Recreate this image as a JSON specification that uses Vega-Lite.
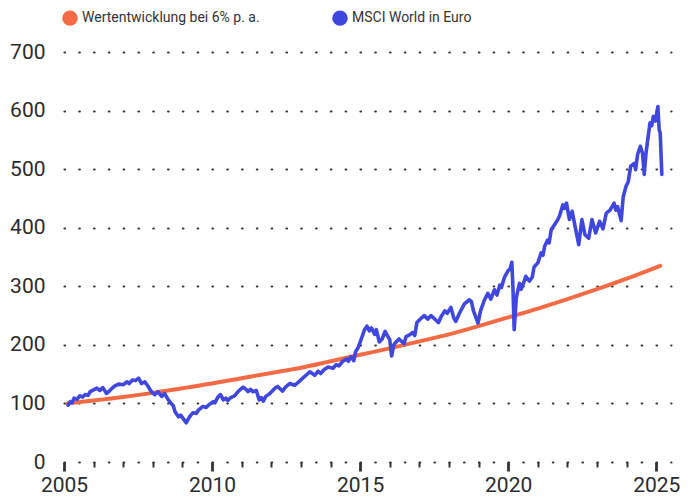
{
  "$schema": "https://vega.github.io/schema/vega-lite/v6.json",
  "width": 607,
  "height": 410,
  "autosize": {"type": "none"},
  "padding": {"left": 64, "top": 52, "right": 21, "bottom": 39},
  "background": "white",
  "config": {
    "view": {"stroke": null},
    "font": "Roboto"
  },
  "data": {
    "values": [
      {"date": "2005-02-15", "value": 100, "series": "Wertentwicklung bei 6% p. a."},
      {"date": "2006-01-01", "value": 105, "series": "Wertentwicklung bei 6% p. a."},
      {"date": "2007-01-01", "value": 111, "series": "Wertentwicklung bei 6% p. a."},
      {"date": "2008-01-01", "value": 118, "series": "Wertentwicklung bei 6% p. a."},
      {"date": "2009-01-01", "value": 126, "series": "Wertentwicklung bei 6% p. a."},
      {"date": "2010-01-01", "value": 134, "series": "Wertentwicklung bei 6% p. a."},
      {"date": "2011-01-01", "value": 143, "series": "Wertentwicklung bei 6% p. a."},
      {"date": "2012-01-01", "value": 152, "series": "Wertentwicklung bei 6% p. a."},
      {"date": "2013-01-01", "value": 161, "series": "Wertentwicklung bei 6% p. a."},
      {"date": "2014-01-01", "value": 172, "series": "Wertentwicklung bei 6% p. a."},
      {"date": "2015-01-01", "value": 183, "series": "Wertentwicklung bei 6% p. a."},
      {"date": "2016-01-01", "value": 194, "series": "Wertentwicklung bei 6% p. a."},
      {"date": "2017-01-01", "value": 206, "series": "Wertentwicklung bei 6% p. a."},
      {"date": "2018-01-01", "value": 218, "series": "Wertentwicklung bei 6% p. a."},
      {"date": "2019-01-01", "value": 232, "series": "Wertentwicklung bei 6% p. a."},
      {"date": "2020-01-01", "value": 247, "series": "Wertentwicklung bei 6% p. a."},
      {"date": "2021-01-01", "value": 262, "series": "Wertentwicklung bei 6% p. a."},
      {"date": "2022-01-01", "value": 278, "series": "Wertentwicklung bei 6% p. a."},
      {"date": "2023-01-01", "value": 295, "series": "Wertentwicklung bei 6% p. a."},
      {"date": "2024-01-01", "value": 313, "series": "Wertentwicklung bei 6% p. a."},
      {"date": "2025-02-18", "value": 335, "series": "Wertentwicklung bei 6% p. a."},

      {"date": "2005-02-20", "value": 97, "series": "MSCI World in Euro"},
      {"date": "2005-03-20", "value": 103, "series": "MSCI World in Euro"},
      {"date": "2005-04-10", "value": 101, "series": "MSCI World in Euro"},
      {"date": "2005-05-05", "value": 109, "series": "MSCI World in Euro"},
      {"date": "2005-06-10", "value": 107, "series": "MSCI World in Euro"},
      {"date": "2005-07-15", "value": 113, "series": "MSCI World in Euro"},
      {"date": "2005-08-20", "value": 111, "series": "MSCI World in Euro"},
      {"date": "2005-09-15", "value": 115, "series": "MSCI World in Euro"},
      {"date": "2005-10-25", "value": 114, "series": "MSCI World in Euro"},
      {"date": "2005-11-20", "value": 120, "series": "MSCI World in Euro"},
      {"date": "2006-01-01", "value": 123, "series": "MSCI World in Euro"},
      {"date": "2006-02-10", "value": 126, "series": "MSCI World in Euro"},
      {"date": "2006-03-20", "value": 122, "series": "MSCI World in Euro"},
      {"date": "2006-04-25", "value": 127, "series": "MSCI World in Euro"},
      {"date": "2006-06-10", "value": 117, "series": "MSCI World in Euro"},
      {"date": "2006-07-20", "value": 122, "series": "MSCI World in Euro"},
      {"date": "2006-09-10", "value": 129, "series": "MSCI World in Euro"},
      {"date": "2006-11-05", "value": 133, "series": "MSCI World in Euro"},
      {"date": "2007-01-05", "value": 132, "series": "MSCI World in Euro"},
      {"date": "2007-02-15", "value": 137, "series": "MSCI World in Euro"},
      {"date": "2007-03-15", "value": 134, "series": "MSCI World in Euro"},
      {"date": "2007-04-25", "value": 140, "series": "MSCI World in Euro"},
      {"date": "2007-06-01", "value": 139, "series": "MSCI World in Euro"},
      {"date": "2007-07-10", "value": 143, "series": "MSCI World in Euro"},
      {"date": "2007-08-15", "value": 134, "series": "MSCI World in Euro"},
      {"date": "2007-09-25", "value": 137, "series": "MSCI World in Euro"},
      {"date": "2007-11-05", "value": 129, "series": "MSCI World in Euro"},
      {"date": "2007-12-15", "value": 120, "series": "MSCI World in Euro"},
      {"date": "2008-01-25", "value": 115, "series": "MSCI World in Euro"},
      {"date": "2008-03-05", "value": 120, "series": "MSCI World in Euro"},
      {"date": "2008-04-20", "value": 112, "series": "MSCI World in Euro"},
      {"date": "2008-05-25", "value": 117, "series": "MSCI World in Euro"},
      {"date": "2008-07-10", "value": 106, "series": "MSCI World in Euro"},
      {"date": "2008-08-15", "value": 100, "series": "MSCI World in Euro"},
      {"date": "2008-09-10", "value": 96, "series": "MSCI World in Euro"},
      {"date": "2008-10-01", "value": 86, "series": "MSCI World in Euro"},
      {"date": "2008-10-20", "value": 82, "series": "MSCI World in Euro"},
      {"date": "2008-11-15", "value": 77, "series": "MSCI World in Euro"},
      {"date": "2008-12-10", "value": 80, "series": "MSCI World in Euro"},
      {"date": "2009-01-10", "value": 74, "series": "MSCI World in Euro"},
      {"date": "2009-02-15", "value": 67, "series": "MSCI World in Euro"},
      {"date": "2009-03-20", "value": 75, "series": "MSCI World in Euro"},
      {"date": "2009-04-15", "value": 80, "series": "MSCI World in Euro"},
      {"date": "2009-05-10", "value": 84, "series": "MSCI World in Euro"},
      {"date": "2009-06-20", "value": 83, "series": "MSCI World in Euro"},
      {"date": "2009-07-20", "value": 89, "series": "MSCI World in Euro"},
      {"date": "2009-09-10", "value": 95, "series": "MSCI World in Euro"},
      {"date": "2009-10-20", "value": 93, "series": "MSCI World in Euro"},
      {"date": "2009-11-25", "value": 98, "series": "MSCI World in Euro"},
      {"date": "2010-01-15", "value": 103, "series": "MSCI World in Euro"},
      {"date": "2010-02-05", "value": 101, "series": "MSCI World in Euro"},
      {"date": "2010-03-10", "value": 110, "series": "MSCI World in Euro"},
      {"date": "2010-04-15", "value": 115, "series": "MSCI World in Euro"},
      {"date": "2010-05-20", "value": 106, "series": "MSCI World in Euro"},
      {"date": "2010-06-20", "value": 109, "series": "MSCI World in Euro"},
      {"date": "2010-07-15", "value": 105, "series": "MSCI World in Euro"},
      {"date": "2010-08-20", "value": 110, "series": "MSCI World in Euro"},
      {"date": "2010-10-05", "value": 113, "series": "MSCI World in Euro"},
      {"date": "2010-11-10", "value": 119, "series": "MSCI World in Euro"},
      {"date": "2010-12-10", "value": 123, "series": "MSCI World in Euro"},
      {"date": "2011-01-20", "value": 128, "series": "MSCI World in Euro"},
      {"date": "2011-02-25", "value": 124, "series": "MSCI World in Euro"},
      {"date": "2011-03-20", "value": 120, "series": "MSCI World in Euro"},
      {"date": "2011-04-20", "value": 124, "series": "MSCI World in Euro"},
      {"date": "2011-05-20", "value": 120, "series": "MSCI World in Euro"},
      {"date": "2011-07-01", "value": 122, "series": "MSCI World in Euro"},
      {"date": "2011-08-05", "value": 106, "series": "MSCI World in Euro"},
      {"date": "2011-09-01", "value": 110, "series": "MSCI World in Euro"},
      {"date": "2011-09-25", "value": 104, "series": "MSCI World in Euro"},
      {"date": "2011-10-25", "value": 112, "series": "MSCI World in Euro"},
      {"date": "2011-12-15", "value": 117, "series": "MSCI World in Euro"},
      {"date": "2012-02-15", "value": 126, "series": "MSCI World in Euro"},
      {"date": "2012-03-20", "value": 129, "series": "MSCI World in Euro"},
      {"date": "2012-05-20", "value": 121, "series": "MSCI World in Euro"},
      {"date": "2012-06-25", "value": 128, "series": "MSCI World in Euro"},
      {"date": "2012-08-15", "value": 134, "series": "MSCI World in Euro"},
      {"date": "2012-10-15", "value": 131, "series": "MSCI World in Euro"},
      {"date": "2012-12-15", "value": 138, "series": "MSCI World in Euro"},
      {"date": "2013-02-15", "value": 146, "series": "MSCI World in Euro"},
      {"date": "2013-04-20", "value": 154, "series": "MSCI World in Euro"},
      {"date": "2013-06-20", "value": 148, "series": "MSCI World in Euro"},
      {"date": "2013-08-01", "value": 155, "series": "MSCI World in Euro"},
      {"date": "2013-09-01", "value": 151, "series": "MSCI World in Euro"},
      {"date": "2013-10-15", "value": 158, "series": "MSCI World in Euro"},
      {"date": "2013-12-01", "value": 162, "series": "MSCI World in Euro"},
      {"date": "2014-02-01", "value": 160, "series": "MSCI World in Euro"},
      {"date": "2014-03-10", "value": 166, "series": "MSCI World in Euro"},
      {"date": "2014-04-15", "value": 164, "series": "MSCI World in Euro"},
      {"date": "2014-06-01", "value": 172, "series": "MSCI World in Euro"},
      {"date": "2014-07-20", "value": 176, "series": "MSCI World in Euro"},
      {"date": "2014-08-10", "value": 172, "series": "MSCI World in Euro"},
      {"date": "2014-09-10", "value": 180, "series": "MSCI World in Euro"},
      {"date": "2014-10-15", "value": 173, "series": "MSCI World in Euro"},
      {"date": "2014-11-05", "value": 188, "series": "MSCI World in Euro"},
      {"date": "2014-12-10", "value": 196, "series": "MSCI World in Euro"},
      {"date": "2015-01-15", "value": 210, "series": "MSCI World in Euro"},
      {"date": "2015-02-25", "value": 226, "series": "MSCI World in Euro"},
      {"date": "2015-03-25", "value": 232, "series": "MSCI World in Euro"},
      {"date": "2015-04-25", "value": 224, "series": "MSCI World in Euro"},
      {"date": "2015-05-20", "value": 229, "series": "MSCI World in Euro"},
      {"date": "2015-06-30", "value": 218, "series": "MSCI World in Euro"},
      {"date": "2015-07-20", "value": 226, "series": "MSCI World in Euro"},
      {"date": "2015-08-25", "value": 205, "series": "MSCI World in Euro"},
      {"date": "2015-09-30", "value": 210, "series": "MSCI World in Euro"},
      {"date": "2015-11-05", "value": 223, "series": "MSCI World in Euro"},
      {"date": "2015-12-10", "value": 214, "series": "MSCI World in Euro"},
      {"date": "2016-01-01", "value": 209, "series": "MSCI World in Euro"},
      {"date": "2016-01-25", "value": 181, "series": "MSCI World in Euro"},
      {"date": "2016-02-20", "value": 200, "series": "MSCI World in Euro"},
      {"date": "2016-03-20", "value": 205, "series": "MSCI World in Euro"},
      {"date": "2016-04-25", "value": 210, "series": "MSCI World in Euro"},
      {"date": "2016-06-25", "value": 202, "series": "MSCI World in Euro"},
      {"date": "2016-07-20", "value": 214, "series": "MSCI World in Euro"},
      {"date": "2016-09-01", "value": 217, "series": "MSCI World in Euro"},
      {"date": "2016-10-10", "value": 221, "series": "MSCI World in Euro"},
      {"date": "2016-11-05", "value": 216, "series": "MSCI World in Euro"},
      {"date": "2016-12-01", "value": 238, "series": "MSCI World in Euro"},
      {"date": "2017-01-20", "value": 245, "series": "MSCI World in Euro"},
      {"date": "2017-03-01", "value": 250, "series": "MSCI World in Euro"},
      {"date": "2017-04-15", "value": 244, "series": "MSCI World in Euro"},
      {"date": "2017-05-25", "value": 250, "series": "MSCI World in Euro"},
      {"date": "2017-07-25", "value": 242, "series": "MSCI World in Euro"},
      {"date": "2017-08-25", "value": 238, "series": "MSCI World in Euro"},
      {"date": "2017-09-25", "value": 248, "series": "MSCI World in Euro"},
      {"date": "2017-11-10", "value": 258, "series": "MSCI World in Euro"},
      {"date": "2017-12-10", "value": 254, "series": "MSCI World in Euro"},
      {"date": "2018-01-25", "value": 264, "series": "MSCI World in Euro"},
      {"date": "2018-03-01", "value": 246, "series": "MSCI World in Euro"},
      {"date": "2018-03-25", "value": 240, "series": "MSCI World in Euro"},
      {"date": "2018-05-10", "value": 254, "series": "MSCI World in Euro"},
      {"date": "2018-07-10", "value": 270, "series": "MSCI World in Euro"},
      {"date": "2018-09-10", "value": 277, "series": "MSCI World in Euro"},
      {"date": "2018-10-05", "value": 274, "series": "MSCI World in Euro"},
      {"date": "2018-10-30", "value": 258, "series": "MSCI World in Euro"},
      {"date": "2018-12-25", "value": 237, "series": "MSCI World in Euro"},
      {"date": "2019-01-25", "value": 258, "series": "MSCI World in Euro"},
      {"date": "2019-03-15", "value": 277, "series": "MSCI World in Euro"},
      {"date": "2019-04-25", "value": 288, "series": "MSCI World in Euro"},
      {"date": "2019-06-01", "value": 278, "series": "MSCI World in Euro"},
      {"date": "2019-07-15", "value": 294, "series": "MSCI World in Euro"},
      {"date": "2019-08-15", "value": 285, "series": "MSCI World in Euro"},
      {"date": "2019-09-20", "value": 302, "series": "MSCI World in Euro"},
      {"date": "2019-10-10", "value": 298, "series": "MSCI World in Euro"},
      {"date": "2019-11-15", "value": 315, "series": "MSCI World in Euro"},
      {"date": "2019-12-28", "value": 326, "series": "MSCI World in Euro"},
      {"date": "2020-01-25", "value": 330, "series": "MSCI World in Euro"},
      {"date": "2020-02-15", "value": 341, "series": "MSCI World in Euro"},
      {"date": "2020-02-28", "value": 300, "series": "MSCI World in Euro"},
      {"date": "2020-03-15", "value": 226, "series": "MSCI World in Euro"},
      {"date": "2020-04-10", "value": 280, "series": "MSCI World in Euro"},
      {"date": "2020-04-25", "value": 290, "series": "MSCI World in Euro"},
      {"date": "2020-05-20", "value": 305, "series": "MSCI World in Euro"},
      {"date": "2020-06-10", "value": 295, "series": "MSCI World in Euro"},
      {"date": "2020-07-05", "value": 304, "series": "MSCI World in Euro"},
      {"date": "2020-08-05", "value": 317, "series": "MSCI World in Euro"},
      {"date": "2020-09-20", "value": 309, "series": "MSCI World in Euro"},
      {"date": "2020-10-25", "value": 316, "series": "MSCI World in Euro"},
      {"date": "2020-11-15", "value": 333, "series": "MSCI World in Euro"},
      {"date": "2021-01-01", "value": 340, "series": "MSCI World in Euro"},
      {"date": "2021-02-10", "value": 357, "series": "MSCI World in Euro"},
      {"date": "2021-03-05", "value": 353, "series": "MSCI World in Euro"},
      {"date": "2021-03-25", "value": 368, "series": "MSCI World in Euro"},
      {"date": "2021-05-01", "value": 379, "series": "MSCI World in Euro"},
      {"date": "2021-05-20", "value": 374, "series": "MSCI World in Euro"},
      {"date": "2021-06-15", "value": 397, "series": "MSCI World in Euro"},
      {"date": "2021-07-25", "value": 405, "series": "MSCI World in Euro"},
      {"date": "2021-09-01", "value": 413, "series": "MSCI World in Euro"},
      {"date": "2021-09-25", "value": 420, "series": "MSCI World in Euro"},
      {"date": "2021-11-05", "value": 439, "series": "MSCI World in Euro"},
      {"date": "2021-11-25", "value": 433, "series": "MSCI World in Euro"},
      {"date": "2021-12-20", "value": 442, "series": "MSCI World in Euro"},
      {"date": "2022-01-25", "value": 414, "series": "MSCI World in Euro"},
      {"date": "2022-02-28", "value": 428, "series": "MSCI World in Euro"},
      {"date": "2022-04-10", "value": 399, "series": "MSCI World in Euro"},
      {"date": "2022-05-20", "value": 371, "series": "MSCI World in Euro"},
      {"date": "2022-06-28", "value": 414, "series": "MSCI World in Euro"},
      {"date": "2022-08-05", "value": 388, "series": "MSCI World in Euro"},
      {"date": "2022-09-20", "value": 382, "series": "MSCI World in Euro"},
      {"date": "2022-10-30", "value": 414, "series": "MSCI World in Euro"},
      {"date": "2022-12-15", "value": 391, "series": "MSCI World in Euro"},
      {"date": "2023-02-01", "value": 411, "series": "MSCI World in Euro"},
      {"date": "2023-03-15", "value": 398, "series": "MSCI World in Euro"},
      {"date": "2023-04-25", "value": 425, "series": "MSCI World in Euro"},
      {"date": "2023-06-10", "value": 430, "series": "MSCI World in Euro"},
      {"date": "2023-07-30", "value": 442, "series": "MSCI World in Euro"},
      {"date": "2023-08-20", "value": 430, "series": "MSCI World in Euro"},
      {"date": "2023-09-12", "value": 436, "series": "MSCI World in Euro"},
      {"date": "2023-10-25", "value": 412, "series": "MSCI World in Euro"},
      {"date": "2023-11-20", "value": 453, "series": "MSCI World in Euro"},
      {"date": "2023-12-25", "value": 471, "series": "MSCI World in Euro"},
      {"date": "2024-01-20", "value": 478, "series": "MSCI World in Euro"},
      {"date": "2024-02-20", "value": 505, "series": "MSCI World in Euro"},
      {"date": "2024-04-05", "value": 510, "series": "MSCI World in Euro"},
      {"date": "2024-04-20", "value": 499, "series": "MSCI World in Euro"},
      {"date": "2024-05-15", "value": 525, "series": "MSCI World in Euro"},
      {"date": "2024-06-18", "value": 539, "series": "MSCI World in Euro"},
      {"date": "2024-07-15", "value": 527, "series": "MSCI World in Euro"},
      {"date": "2024-08-05", "value": 491, "series": "MSCI World in Euro"},
      {"date": "2024-08-25", "value": 525, "series": "MSCI World in Euro"},
      {"date": "2024-09-15", "value": 548, "series": "MSCI World in Euro"},
      {"date": "2024-10-15", "value": 579, "series": "MSCI World in Euro"},
      {"date": "2024-11-05", "value": 574, "series": "MSCI World in Euro"},
      {"date": "2024-11-25", "value": 590, "series": "MSCI World in Euro"},
      {"date": "2024-12-20", "value": 582, "series": "MSCI World in Euro"},
      {"date": "2025-01-20", "value": 607, "series": "MSCI World in Euro"},
      {"date": "2025-02-05", "value": 567, "series": "MSCI World in Euro"},
      {"date": "2025-02-18", "value": 562, "series": "MSCI World in Euro"},
      {"date": "2025-03-10", "value": 491, "series": "MSCI World in Euro"}
    ]
  },
  "encoding": {
    "x": {
      "field": "date",
      "type": "temporal",
      "title": null,
      "scale": {"type": "utc", "domain": ["2005-01-01", "2025-07-01"]},
      "axis": {
        "domain": false,
        "grid": false,
        "tickCount": {"interval": "year", "step": 1},
        "labelExpr": "utcyear(datum.value) % 5 === 0 ? utcFormat(datum.value, '%Y') : ''",
        "labelOverlap": false,
        "labelFlush": false,
        "labelFont": "Roboto",
        "labelFontSize": 21,
        "labelColor": "#2b2b2b",
        "labelPadding": 3,
        "tickColor": "#333333",
        "tickSize": {"condition": {"test": "utcyear(datum.value) % 5 === 0", "value": 9}, "value": 5},
        "tickWidth": {"condition": {"test": "utcyear(datum.value) % 5 === 0", "value": 2.8}, "value": 2}
      }
    },
    "y": {
      "field": "value",
      "type": "quantitative",
      "title": null,
      "scale": {"domain": [0, 700], "nice": false},
      "axis": {
        "values": [0, 100, 200, 300, 400, 500, 600, 700],
        "domain": false,
        "ticks": false,
        "labelFont": "Roboto",
        "labelFontSize": 21,
        "labelColor": "#2b2b2b",
        "labelPadding": 19,
        "gridColor": "#333333",
        "gridDash": [0.5, 14.3],
        "gridCap": "round",
        "gridWidth": 2.2
      }
    },
    "color": {
      "field": "series",
      "type": "nominal",
      "title": null,
      "scale": {
        "domain": ["Wertentwicklung bei 6% p. a.", "MSCI World in Euro"],
        "range": ["#F26B44", "#3F47DE"]
      },
      "legend": {
        "orient": "none",
        "direction": "horizontal",
        "legendX": -2,
        "legendY": -42,
        "padding": 0,
        "symbolType": "circle",
        "symbolSize": 240,
        "symbolStrokeWidth": 0,
        "labelFont": "Roboto",
        "labelFontSize": 14,
        "labelColor": "#333333",
        "labelOffset": 4,
        "columnPadding": 72,
        "labelLimit": 400,
        "encode": {
          "symbols": {
            "update": {
              "fill": {"scale": "color", "field": "value"},
              "fillOpacity": {"value": 1},
              "strokeWidth": {"value": 0},
              "size": {"value": 240}
            }
          }
        }
      }
    }
  },
  "layer": [
    {
      "transform": [{"filter": "datum.series === 'Wertentwicklung bei 6% p. a.'"}],
      "mark": {"type": "line", "strokeWidth": 4, "strokeCap": "round", "interpolate": "monotone"}
    },
    {
      "transform": [{"filter": "datum.series === 'MSCI World in Euro'"}],
      "mark": {"type": "line", "strokeWidth": 3.6, "strokeCap": "round", "strokeJoin": "round"}
    }
  ]
}
